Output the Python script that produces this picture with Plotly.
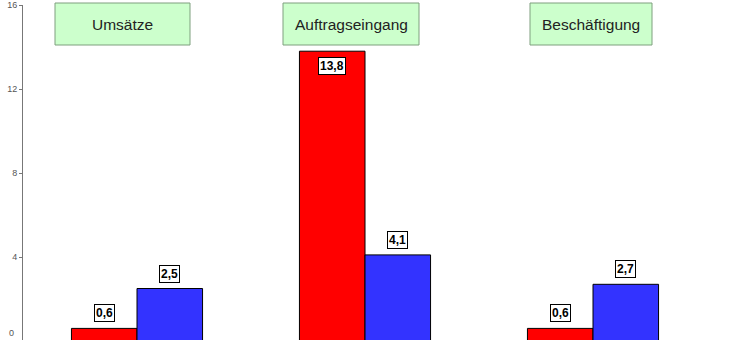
import plotly.graph_objects as go

categories = ["Umsätze", "Auftragseingang", "Beschäftigung"]
series_red = [0.6, 13.8, 0.6]
series_blue = [2.5, 4.1, 2.7]
y_ticks = [0, 4, 8, 12, 16]

W, H = 730, 340
ML, MR, MT, MB = 23, 23, 5, 0
pw, ph = W - ML - MR, H - MT - MB
YMAX = 16
ymin = YMAX - YMAX / 336 * ph  # 0 sits just below the visible area

xs = list(range(len(categories)))
bw = 0.2875

fig = go.Figure()
fig.add_trace(go.Bar(x=xs, y=series_red, marker=dict(color="#ff0000", line=dict(color="#000000", width=1)), width=bw, offset=-bw, showlegend=False))
fig.add_trace(go.Bar(x=xs, y=series_blue, marker=dict(color="#3333ff", line=dict(color="#000000", width=1)), width=bw, offset=0, showlegend=False))

def fmt(v):
    return f"{v:.1f}".replace(".", ",")

ann = []
for i, (r, b) in enumerate(zip(series_red, series_blue)):
    for v, xo in ((r, -bw / 2), (b, bw / 2)):
        shift = -15 if v > 10 else 15
        ann.append(dict(x=i + xo, y=v, xref="x", yref="y", text="<b>" + fmt(v) + "</b>", showarrow=False,
                        xanchor="center", yanchor="middle",
                        yshift=shift, font=dict(family="Liberation Sans, Arial", size=12, color="#000"),
                        bgcolor="#ffffff", bordercolor="#000000", borderwidth=1, borderpad=1))

# category title boxes (pixel boxes)
boxes = [(55, 190), (283, 419), (530, 652)]
for (x0, x1), name in zip(boxes, categories):
    fig.add_shape(type="rect", xref="paper", yref="paper",
                  x0=(x0 - ML) / pw, x1=(x1 - ML) / pw,
                  y0=(H - MB - 45) / ph, y1=(H - MB - 3) / ph,
                  fillcolor="#ccffcc", line=dict(color="#7f9f7f", width=1), layer="above")
    ann.append(dict(x=((x0 + x1) / 2 - ML) / pw, y=(H - MB - 24) / ph, xref="paper", yref="paper",
                    xanchor="center", yanchor="middle",
                    text=name, showarrow=False,
                    font=dict(family="Liberation Sans, Arial", size=15.5, color="#222")))

ann.append(dict(x=0, y=0, xref="paper", yref="paper", text="0", showarrow=False, xanchor="right", yanchor="bottom",
                xshift=-7, yshift=0, font=dict(family="Liberation Sans, Arial", size=9, color="#555")))

fig.update_layout(
    width=W, height=H, margin=dict(l=ML, r=MR, t=MT, b=MB),
    paper_bgcolor="white", plot_bgcolor="white",
    barmode="overlay", annotations=ann,
    xaxis=dict(range=[-0.5, 2.5], showticklabels=False, showgrid=False, zeroline=False, showline=False, ticks=""),
    yaxis=dict(range=[ymin, YMAX], tickvals=y_ticks, ticktext=[str(t) for t in y_ticks], showgrid=False, zeroline=False,
               showline=True, linecolor="#777", linewidth=1, ticks="outside", ticklen=3, tickcolor="#777",
               tickfont=dict(family="Liberation Sans, Arial", size=9, color="#555")),
)
fig.write_html("out.html")
